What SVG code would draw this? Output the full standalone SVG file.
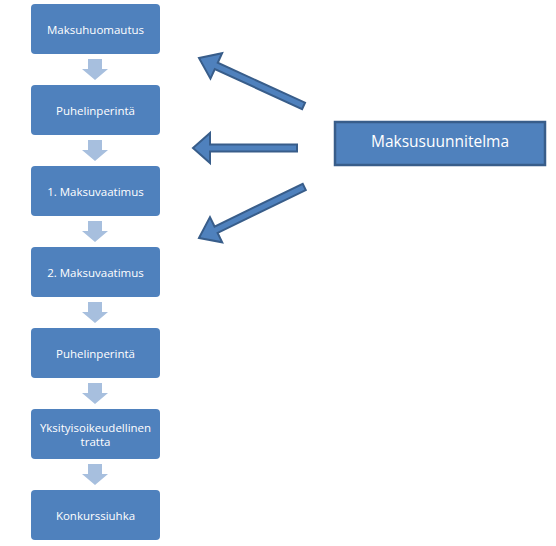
<svg xmlns="http://www.w3.org/2000/svg" width="556" height="546" viewBox="0 0 556 546">
<style>
.box{fill:#4F81BD;}
.t{fill:#fff;font-family:"Open Sans","Liberation Sans",sans-serif;font-size:11.5px;text-anchor:middle;dominant-baseline:central;}
.dn{fill:#A7BFDE;}
.big{fill:#4F81BD;stroke:#385D8A;stroke-width:2;stroke-linejoin:miter;}
</style>
<defs>
<path id="down" class="dn" d="M-7,0 H7 V10 H13 L0,21 L-13,10 H-7 Z"/>
</defs>
<g id="n1"><rect class="box" x="31" y="4" width="129" height="50" rx="4"/><text class="t" x="95.5" y="29">Maksuhuomautus</text></g>
<g id="n2"><rect class="box" x="31" y="85" width="129" height="50" rx="4"/><text class="t" x="95.5" y="110">Puhelinperintä</text></g>
<g id="n3"><rect class="box" x="31" y="166" width="129" height="50" rx="4"/><text class="t" x="95.5" y="191">1. Maksuvaatimus</text></g>
<g id="n4"><rect class="box" x="31" y="247" width="129" height="50" rx="4"/><text class="t" x="95.5" y="272">2. Maksuvaatimus</text></g>
<g id="n5"><rect class="box" x="31" y="328" width="129" height="50" rx="4"/><text class="t" x="95.5" y="353">Puhelinperintä</text></g>
<g id="n6"><rect class="box" x="31" y="409" width="129" height="50" rx="4"/><text class="t" x="95.5" y="427">Yksityisoikeudellinen</text><text class="t" x="95.5" y="441">tratta</text></g>
<g id="n7"><rect class="box" x="31" y="490" width="129" height="50" rx="4"/><text class="t" x="95.5" y="515">Konkurssiuhka</text></g>
<g id="n8"><rect x="335" y="122" width="210" height="43" fill="#4F81BD" stroke="#385D8A" stroke-width="2.5"/><text x="440" y="141" fill="#fff" font-family="'Open Sans','Liberation Sans',sans-serif" font-size="15.5" text-anchor="middle" dominant-baseline="central">Maksusuunnitelma</text></g>
<g id="connectors">
<use href="#down" x="95" y="59"/>
<use href="#down" x="95" y="140"/>
<use href="#down" x="95" y="221"/>
<use href="#down" x="95" y="302"/>
<use href="#down" x="95" y="383"/>
<use href="#down" x="95" y="464"/>
<path class="big" transform="translate(199,58) rotate(24.6)" d="M0,0 L19,-14 V-3.5 H115 V3.5 H19 V14 Z"/>
<path class="big" transform="translate(193,148)" d="M0,0 L17,-15 V-3.5 H104 V3.5 H17 V15 Z"/>
<path class="big" transform="translate(199,238) rotate(-25.9)" d="M0,0 L19,-14 V-3.5 H117 V3.5 H19 V14 Z"/>
</g>
</svg>
